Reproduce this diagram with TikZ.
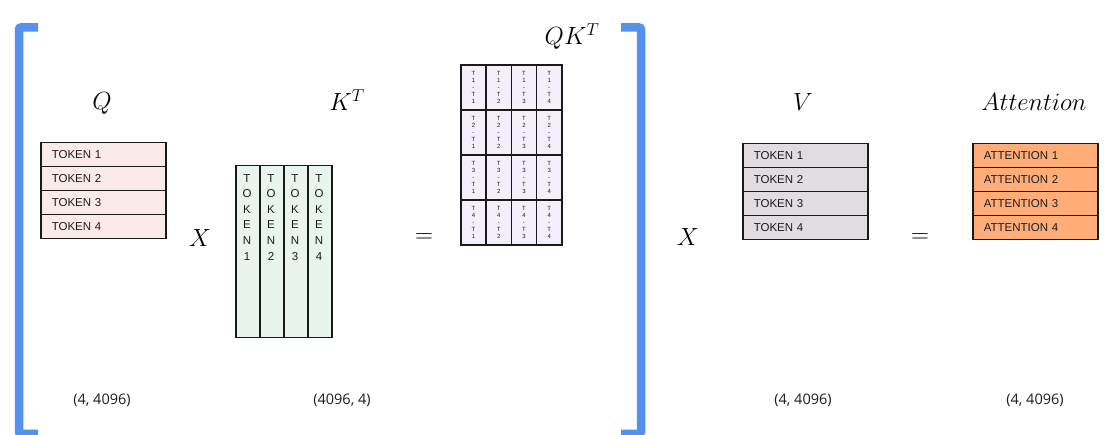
\documentclass[tikz,border=0pt]{standalone}
\usepackage{fontspec}
\usetikzlibrary{calc}
\setmainfont{Liberation Sans}
\newfontfamily\dimfont{Open Sans}
\definecolor{brk}{RGB}{85,146,237}
\definecolor{qfill}{HTML}{FBEAEA}
\definecolor{kfill}{HTML}{E8F4EE}
\definecolor{qkfill}{HTML}{F4EFFA}
\definecolor{vfill}{HTML}{E0DCDF}
\definecolor{afill}{HTML}{FFAD78}
\definecolor{edge}{HTML}{1A1A1A}
\definecolor{ink}{HTML}{1C1C1C}
\begin{document}
\begin{tikzpicture}[x=1pt,y=-1pt,
  bracket/.style={draw=brk,line width=8.5pt,rounded corners=2pt},
  rowbox/.style={draw=edge,line width=1.5pt,minimum width=125pt,minimum height=24pt,
     inner xsep=11pt,text width=103pt,align=left,anchor=north west,
     font=\fontsize{11.5}{13}\selectfont,text=ink},
  kcol/.style={draw=edge,line width=1.5pt,fill=kfill,minimum width=24pt,minimum height=172pt,anchor=north west},
  ktext/.style={anchor=north,inner sep=0pt,align=center,text=ink,
     font=\fontsize{11.5}{15.6}\selectfont},
  qkcell/.style={draw=edge,line width=1.6pt,fill=qkfill,minimum width=25.25pt,minimum height=45pt,
     anchor=north west,inner sep=0pt,align=center,text=ink,font=\fontsize{6}{7}\selectfont},
  title/.style={inner sep=0pt,font=\fontsize{25}{29}\selectfont},
  op/.style={inner sep=0pt,font=\fontsize{24}{28}\selectfont},
  dim/.style={inner sep=0pt,font=\dimfont\fontsize{14.5}{17}\selectfont,text=ink}]
\useasboundingbox (0,0) rectangle (1114,435);
\fill[white] (0,0) rectangle (1114,435);

% brackets
\draw[bracket] (38,27.5) -- (19,27.5) -- (19,434) -- (38,434);
\draw[bracket] (621,27.5) -- (641,27.5) -- (641,434) -- (621,434);

% titles
\node[title] (tq) at (102,103) {$Q$};
\node[title] (tk) at (347,100) {$K^T$};
\node[title] (tqk) at (572,37) {$QK^T$};
\node[title] (tv) at (803,102) {$V$};
\node[title] (ta) at (1034,102) {$Attention$};

% Q matrix
\foreach \i/\y in {1/142,2/166,3/190,4/214}{
  \node[rowbox,fill=qfill] (q\i) at (40,\y) {TOKEN \i};
}
% K^T matrix
\foreach \i/\x in {1/235,2/259,3/283,4/307}{
  \node[kcol] (k\i) at (\x,165) {};
  \node[ktext] (kt\i) at ($(\x,174)+(12,0)$) {T\\O\\K\\E\\N\\\i};
}
% QK^T matrix
\foreach \r/\y in {1/64,2/109,3/154,4/199}{
  \foreach \c/\x in {1/460,2/485.25,3/510.5,4/535.75}{
    \node[qkcell] (c\r\c) at (\x,\y) {T\\\r\\-\\T\\\c};
  }
}
% V matrix
\foreach \i/\y in {1/143,2/167,3/191,4/215}{
  \node[rowbox,fill=vfill] (v\i) at (742,\y) {TOKEN \i};
}
% Attention matrix
\foreach \i/\y in {1/143,2/167,3/191,4/215}{
  \node[rowbox,fill=afill] (a\i) at (972,\y) {ATTENTION \i};
}

% operators
\node[op] (x1) at (200,238) {$X$};
\node[op] (eq1) at (424,238) {$=$};
\node[op] (x2) at (688,237) {$X$};
\node[op] (eq2) at (920,238) {$=$};

% dimensions
\node[dim] (dq) at (102,400) {(4, 4096)};
\node[dim] (dk) at (342,400) {(4096, 4)};
\node[dim] (dv) at (803,400) {(4, 4096)};
\node[dim] (da) at (1035,400) {(4, 4096)};
\end{tikzpicture}
\end{document}
